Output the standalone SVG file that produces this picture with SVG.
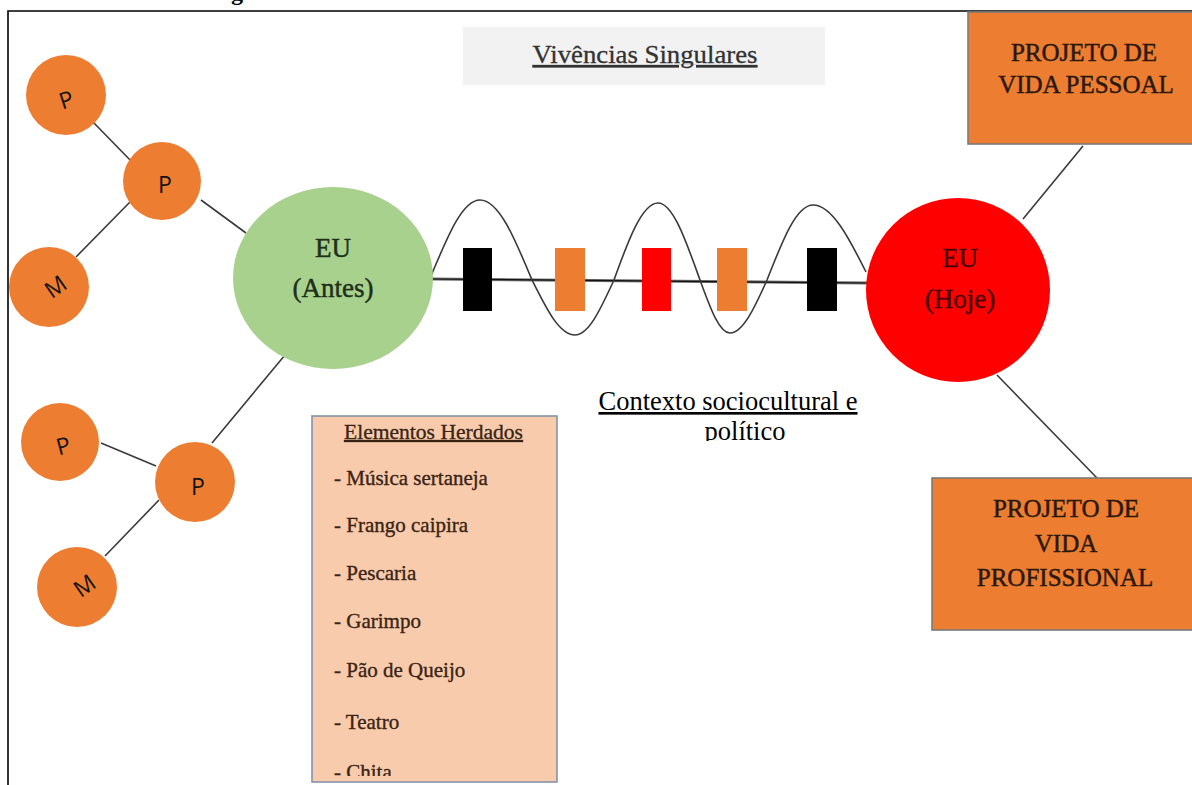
<svg xmlns="http://www.w3.org/2000/svg" width="1192" height="785" viewBox="0 0 1192 785">
  <style>
    .serif { font-family: "Liberation Serif", "Times New Roman", serif; }
    .sans { font-family: "Open Sans", "Liberation Sans", Arial, sans-serif; }
    .edge { stroke: #3a3a3a; stroke-width: 1.6; fill: none; }
    .small { fill: #ED7D31; }
    .smalltxt { font-size: 23px; fill: #111; text-anchor: middle; dominant-baseline: central; }
    .boxtxt { font-size: 25px; fill: #2a180c; stroke: #2a180c; stroke-width: 0.45; text-anchor: middle; }
    .list { font-size: 21px; fill: #3a2414; stroke: #3a2414; stroke-width: 0.35; }
    .eu { font-size: 27px; text-anchor: middle; stroke-width: 0.45; }
  </style>
  <defs>
    <clipPath id="clipPolitico"><rect x="560" y="380" width="340" height="61"/></clipPath>
    <clipPath id="clipList"><rect x="312" y="416" width="245" height="360"/></clipPath>
  </defs>

  <rect width="1192" height="785" fill="#ffffff"/>

  <!-- cut-off heading descender -->
  <text class="serif" x="231" y="0" font-size="24" font-weight="bold" fill="#000">g</text>

  <!-- page frame -->
  <path d="M8 785 V11 H1192" stroke="#000" stroke-width="1.6" fill="none"/>

  <!-- connectors -->
  <g id="connectors">
    <line class="edge" x1="93" y1="122" x2="133" y2="163"/>
    <line class="edge" x1="130" y1="202" x2="76" y2="257"/>
    <line class="edge" x1="201" y1="200" x2="246" y2="233"/>
    <line class="edge" x1="101" y1="443" x2="156" y2="466"/>
    <line class="edge" x1="159" y1="500" x2="105" y2="556"/>
    <line class="edge" x1="212" y1="443" x2="285" y2="355"/>
    <line class="edge" x1="1083" y1="146" x2="1023" y2="219"/>
    <line class="edge" x1="997" y1="375" x2="1097" y2="478"/>
    <!-- timeline axis -->
    <line x1="432" y1="279" x2="867" y2="283" stroke="#6e6e6e" stroke-width="3"/>
    <line x1="432" y1="279" x2="867" y2="283" stroke="#111" stroke-width="1.2"/>
  </g>

  <!-- timeline markers -->
  <g id="markers">
    <rect x="463" y="248" width="29" height="63" fill="#000"/>
    <rect x="555" y="248" width="30" height="63" fill="#ED7D31"/>
    <rect x="642" y="248" width="29" height="63" fill="#FF0000"/>
    <rect x="717" y="248" width="30" height="63" fill="#ED7D31"/>
    <rect x="807" y="248" width="30" height="63" fill="#000"/>
  </g>

  <!-- wave -->
  <g id="wave">
    <path class="edge" stroke="#222" d="M431 276 C447 238 462 200 480 200 C499 200 515 239 532 280 C546 308 559 335 575 335 C589 335 601 308 614 280 C628 241 642 203 658 203 C673 203 686 241 700 280 C710 307 719 333 730 333 C743 333 755 307 767 280 C782 242 796 205 813 205 C832 205 849 238 866 272"/>
  </g>

  <!-- ancestry, upper branch -->
  <g id="p-top">
    <circle class="small" cx="66" cy="95" r="40"/>
    <text class="sans smalltxt" transform="translate(66,99) rotate(-18)">P</text>
  </g>
  <g id="p-mid">
    <circle class="small" cx="162" cy="181" r="39"/>
    <text class="sans smalltxt" transform="translate(165,184)">P</text>
  </g>
  <g id="m-top">
    <circle class="small" cx="49" cy="287" r="40"/>
    <text class="sans smalltxt" transform="translate(55,286) rotate(-35)">M</text>
  </g>

  <!-- ancestry, lower branch -->
  <g id="p-low">
    <circle class="small" cx="60" cy="442" r="39"/>
    <text class="sans smalltxt" transform="translate(63,445) rotate(-15)">P</text>
  </g>
  <g id="p-low-mid">
    <circle class="small" cx="195" cy="482" r="40"/>
    <text class="sans smalltxt" transform="translate(198,486)">P</text>
  </g>
  <g id="m-low">
    <circle class="small" cx="77" cy="587" r="40"/>
    <text class="sans smalltxt" transform="translate(84,585) rotate(-35)">M</text>
  </g>

  <!-- self, before -->
  <g id="eu-antes">
    <ellipse cx="333" cy="278" rx="100" ry="91" fill="#A9D18E"/>
    <text class="serif eu" x="333" y="257" fill="#1d301a" stroke="#1d301a">EU</text>
    <text class="serif eu" x="333" y="297" fill="#1d301a" stroke="#1d301a">(Antes)</text>
  </g>

  <!-- self, today -->
  <g id="eu-hoje">
    <circle cx="958" cy="290" r="92" fill="#FF0000"/>
    <text class="serif eu" x="960" y="267" fill="#4a0000" stroke="#4a0000">EU</text>
    <text class="serif eu" x="960" y="308" fill="#4a0000" stroke="#4a0000">(Hoje)</text>
  </g>

  <!-- title strip -->
  <g id="vivencias">
    <rect x="463" y="27" width="362" height="58" fill="#F2F2F2"/>
    <text class="serif" x="645" y="63" font-size="25" fill="#333" stroke="#333" stroke-width="0.3" text-anchor="middle" text-decoration="underline" textLength="225" lengthAdjust="spacingAndGlyphs">Vivências Singulares</text>
  </g>

  <!-- context label -->
  <g id="contexto">
    <text class="serif" x="728" y="410" font-size="26.5" fill="#000" text-anchor="middle" text-decoration="underline">Contexto sociocultural e</text>
    <text class="serif" x="745" y="440" font-size="26.5" fill="#000" text-anchor="middle" clip-path="url(#clipPolitico)">político</text>
  </g>

  <!-- personal project -->
  <g id="projeto-pessoal">
    <rect x="968" y="12" width="230" height="132" fill="#ED7D31" stroke="#7a7a7a" stroke-width="1.6"/>
    <text class="serif boxtxt" x="1084" y="61">PROJETO DE</text>
    <text class="serif boxtxt" x="1086" y="93">VIDA PESSOAL</text>
  </g>

  <!-- professional project -->
  <g id="projeto-profissional">
    <rect x="932" y="478" width="266" height="152" fill="#ED7D31" stroke="#7a7a7a" stroke-width="1.6"/>
    <text class="serif boxtxt" x="1066" y="517">PROJETO DE</text>
    <text class="serif boxtxt" x="1066" y="552">VIDA</text>
    <text class="serif boxtxt" x="1065" y="586">PROFISSIONAL</text>
  </g>

  <!-- inherited elements -->
  <g id="elementos-herdados">
    <rect x="312" y="416" width="245" height="366" fill="#F8CBAD" stroke="#8494aa" stroke-width="1.6"/>
    <text class="serif" x="344" y="439" font-size="20" fill="#3a2414" stroke="#3a2414" stroke-width="0.3" text-decoration="underline" textLength="179" lengthAdjust="spacingAndGlyphs">Elementos Herdados</text>
    <g clip-path="url(#clipList)">
      <text class="serif list" x="334" y="485">- Música sertaneja</text>
      <text class="serif list" x="334" y="532">- Frango caipira</text>
      <text class="serif list" x="334" y="580">- Pescaria</text>
      <text class="serif list" x="334" y="628">- Garimpo</text>
      <text class="serif list" x="334" y="677">- Pão de Queijo</text>
      <text class="serif list" x="334" y="729">- Teatro</text>
      <text class="serif list" x="334" y="779">- Chita</text>
    </g>
  </g>
</svg>
